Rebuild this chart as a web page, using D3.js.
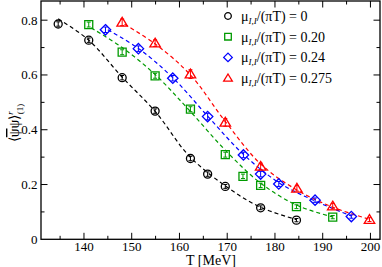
<!DOCTYPE html>
<html>
<head>
<meta charset="utf-8">
<script src="https://cdn.jsdelivr.net/npm/d3@7"></script>
<style>
body { margin: 0; background: #fff; }
</style>
</head>
<body>
<svg id="chart" width="382" height="267"></svg>
<script>
// lattice points
var T0 = [134.6, 141.0, 148.0, 154.9, 162.3, 165.9, 169.6, 177.0, 184.5]
var y0 = [0.786, 0.727, 0.590, 0.468, 0.295, 0.238, 0.193, 0.115, 0.070]
var e0 = [0.008, 0.008, 0.008, 0.008, 0.008, 0.008, 0.007, 0.007, 0.006]

var T20 = [141.0, 148.0, 154.9, 162.3, 169.6, 173.3, 177.0, 184.5, 192.1]
var y20 = [0.784, 0.683, 0.597, 0.475, 0.309, 0.230, 0.197, 0.119, 0.081]
var e20 = [0.009, 0.009, 0.009, 0.009, 0.009, 0.008, 0.008, 0.007, 0.006]

var T24 = [144.5, 151.4, 158.6, 165.9, 173.4, 177.0, 180.8, 188.4, 196.0]
var y24 = [0.765, 0.696, 0.588, 0.448, 0.308, 0.238, 0.202, 0.143, 0.083]
var e24 = [0.010, 0.010, 0.010, 0.012, 0.010, 0.010, 0.009, 0.008, 0.006]

var T275 = [148.0, 154.9, 162.3, 169.6, 177.0, 184.6, 192.1, 199.8]
var y275 = [0.792, 0.716, 0.603, 0.427, 0.266, 0.186, 0.121, 0.072]
var e275 = [0.012, 0.012, 0.016, 0.014, 0.012, 0.010, 0.010, 0.007]

// dashed fit curves
var fitT0 = [134.6, 141, 148, 155, 162, 170, 177, 184.5]
var fitY0 = [0.805, 0.727, 0.592, 0.465, 0.305, 0.190, 0.117, 0.072]
var fitT20 = [141.5, 148, 155, 162, 170, 177, 184.5, 192]
var fitY20 = [0.772, 0.700, 0.600, 0.472, 0.318, 0.205, 0.125, 0.082]
var fitT24 = [145, 151.4, 158.6, 166, 173.4, 181, 188.4, 196]
var fitY24 = [0.765, 0.697, 0.590, 0.448, 0.310, 0.205, 0.140, 0.085]
var fitT275 = [148.5, 155, 162.3, 169.6, 177, 184.6, 192, 199.8]
var fitY275 = [0.785, 0.712, 0.600, 0.430, 0.275, 0.180, 0.118, 0.073]

var labels = ["0", "0.20", "0.24", "0.275"]
var xTicks = [140, 150, 160, 170, 180, 190, 200]
var yTicks = [0, 0.2, 0.4, 0.6, 0.8]

var black = '#000000', green = '#009a00', blue = '#0000ff', red = '#ff0000'

var series = [
  {T: T0, y: y0, e: e0, fT: fitT0, fY: fitY0, color: black, sym: 'circle', lab: labels[0]},
  {T: T20, y: y20, e: e20, fT: fitT20, fY: fitY20, color: green, sym: 'square', lab: labels[1]},
  {T: T24, y: y24, e: e24, fT: fitT24, fY: fitY24, color: blue, sym: 'diamond', lab: labels[2]},
  {T: T275, y: y275, e: e275, fT: fitT275, fY: fitY275, color: red, sym: 'triangle', lab: labels[3]}
]

var svg = d3.select('#chart')
var L = 41, R = 380, Tp = 1, B = 239.3
var serif = 'Liberation Serif'

var x = d3.scaleLinear().domain([131, 202]).range([L, R])
var y = d3.scaleLinear().domain([0, 0.87]).range([B, Tp])

// symbol paths
function symPath(sym, s) {
  if (sym == 'circle') return d3.symbol().type(d3.symbolCircle).size(Math.PI * s * s)()
  if (sym == 'square') return 'M' + (-s) + ',' + (-s) + 'h' + (2 * s) + 'v' + (2 * s) + 'h' + (-2 * s) + 'Z'
  if (sym == 'diamond') { var d = s * 1.3; return 'M0,' + (-d) + 'L' + d + ',0L0,' + d + 'L' + (-d) + ',0Z' }
  var h = s * 1.25
  return 'M0,' + (-h) + 'L' + (h * 1.05) + ',' + (h * 0.75) + 'L' + (-h * 1.05) + ',' + (h * 0.75) + 'Z'
}

// fit curves
var line = d3.line().curve(d3.curveCatmullRom)
series.forEach(function (s) {
  var pts = s.fT.map(function (t, i) { return [x(t), y(s.fY[i])] })
  svg.append('path')
    .attr('d', line(pts))
    .attr('fill', 'none')
    .attr('stroke', s.color)
    .attr('stroke-width', 1.2)
    .attr('stroke-dasharray', '4,3')
})

// points with error bars
series.forEach(function (s) {
  var g = svg.append('g')
  s.T.forEach(function (t, i) {
    var cx = x(t), cy = y(s.y[i])
    var y1 = y(s.y[i] + s.e[i]), y2 = y(s.y[i] - s.e[i])
    g.append('line').attr('x1', cx).attr('x2', cx).attr('y1', y1).attr('y2', y2)
      .attr('stroke', s.color).attr('stroke-width', 1)
    ;[y1, y2].forEach(function (yy) {
      g.append('line').attr('x1', cx - 2).attr('x2', cx + 2).attr('y1', yy).attr('y2', yy)
        .attr('stroke', s.color).attr('stroke-width', 1)
    })
    g.append('path')
      .attr('d', symPath(s.sym, 4))
      .attr('transform', 'translate(' + cx + ',' + cy + ')')
      .attr('fill', 'none')
      .attr('stroke', s.color)
      .attr('stroke-width', 1.3)
  })
})

// frame
svg.append('rect')
  .attr('x', L).attr('y', Tp).attr('width', R - L).attr('height', B - Tp)
  .attr('fill', 'none').attr('stroke', '#000').attr('stroke-width', 1.3)

// ticks pointing inward on all four sides
var xMinor = d3.range(135, 202, 5)
var yMinor = d3.range(0.1, 0.87, 0.1)
xMinor.forEach(function (t) {
  var len = (t % 10 == 0) ? 6.5 : 3.5
  svg.append('line').attr('x1', x(t)).attr('x2', x(t)).attr('y1', B).attr('y2', B - len).attr('stroke', '#000')
  svg.append('line').attr('x1', x(t)).attr('x2', x(t)).attr('y1', Tp).attr('y2', Tp + len).attr('stroke', '#000')
})
yMinor.forEach(function (v, i) {
  var len = (i % 2 == 1) ? 6.5 : 3.5
  svg.append('line').attr('x1', L).attr('x2', L + len).attr('y1', y(v)).attr('y2', y(v)).attr('stroke', '#000')
  svg.append('line').attr('x1', R).attr('x2', R - len).attr('y1', y(v)).attr('y2', y(v)).attr('stroke', '#000')
})

// tick labels
svg.selectAll('.xl').data(xTicks).enter().append('text')
  .attr('x', function (d) { return x(d) })
  .attr('y', 250.5)
  .attr('text-anchor', 'middle')
  .attr('font-family', serif)
  .attr('font-size', 13)
  .text(function (d) { return d })
svg.selectAll('.yl').data(yTicks).enter().append('text')
  .attr('x', 37.5)
  .attr('y', function (d) { return y(d) + 4.5 })
  .attr('text-anchor', 'end')
  .attr('font-family', serif)
  .attr('font-size', 13)
  .text(function (d) { return d == 0 ? '0' : d.toFixed(1) })

// axis titles
svg.append('text')
  .attr('x', 211).attr('y', 265)
  .attr('text-anchor', 'middle')
  .attr('font-family', serif)
  .attr('font-size', 14)
  .text('T [MeV]')

var yt = svg.append('text')
  .attr('transform', 'translate(19,123) rotate(-90)')
  .attr('text-anchor', 'middle')
  .attr('font-family', serif)
  .attr('font-size', 14)
yt.append('tspan').text('\u27E8')
yt.append('tspan').style('text-decoration', 'overline').text('\u03C8')
yt.append('tspan').text('\u03C8\u27E9')
yt.append('tspan').attr('dy', -6).attr('font-size', 9).attr('font-style', 'italic').text('r')
yt.append('tspan').attr('dy', 10).attr('dx', -3).attr('font-size', 9).text('(1)')

// legend
series.forEach(function (s, i) {
  var ly = 16 + i * 20.7
  svg.append('path')
    .attr('d', symPath(s.sym, 3.3))
    .attr('transform', 'translate(228,' + ly + ')')
    .attr('fill', 'none')
    .attr('stroke', s.color)
    .attr('stroke-width', 1.3)
  var t = svg.append('text').attr('x', 241).attr('y', ly + 5)
    .attr('font-family', serif).attr('font-size', 14)
  t.append('tspan').text('\u03BC')
  t.append('tspan').attr('dy', 3).attr('font-size', 9).attr('font-style', 'italic').text('I,I')
  t.append('tspan').attr('dy', -3).text('/(\u03C0T) = ' + s.lab)
})
</script>
</body>
</html>
